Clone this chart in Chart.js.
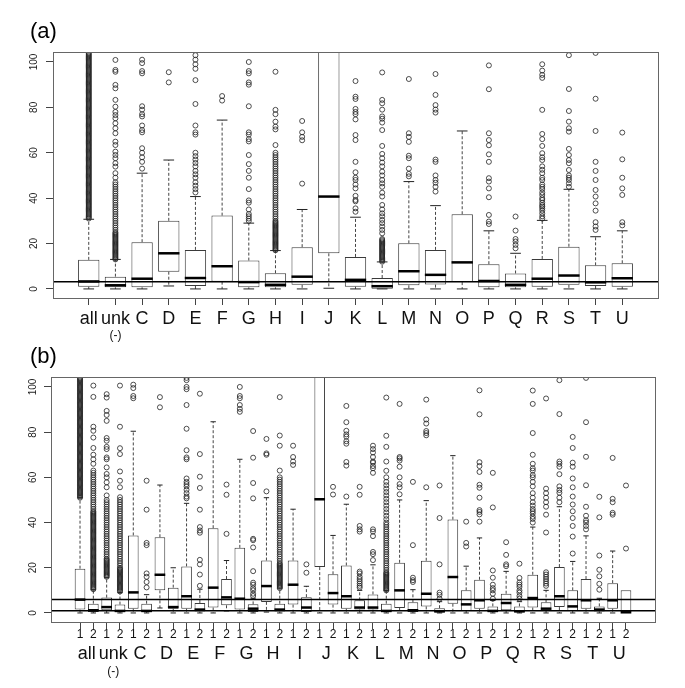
<!DOCTYPE html>
<html>
<head>
<meta charset="utf-8">
<script src="https://cdn.jsdelivr.net/npm/chart.js@4/dist/chart.umd.min.js"></script>
<style>
  body { margin: 0; background: #fff; }
  canvas { display: block; }
  #chartB { margin-top: -8px; position: relative; }
</style>
</head>
<body>
<canvas id="chartA" width="685" height="352"></canvas>
<canvas id="chartB" width="685" height="344"></canvas>
<script>
// ---- data ----
const yTicks = [0, 20, 40, 60, 80, 100];
const groups = ['all', 'unk', 'C', 'D', 'E', 'F', 'G', 'H', 'I', 'J', 'K', 'L', 'M', 'N', 'O', 'P', 'Q', 'R', 'S', 'T', 'U'];
const subLabels = ['1', '2'];

// panel (a): one box per group
const q1A  = [1.0, 0.7, 0.7, 7.6, 1.3, 3.2, 0.7, 0.7, 1.8, 15.7, 1.0, 0.1, 1.6, 1.9, 3.0, 0.7, 0.7, 1.0, 1.8, 1.3, 1.0];
const medA = [3.3, 1.6, 4.5, 15.7, 4.8, 10.0, 3.0, 1.8, 5.4, 40.7, 4.0, 1.2, 7.8, 6.2, 11.7, 3.5, 1.8, 4.5, 5.9, 2.9, 4.7];
const q3A  = [12.8, 5.4, 20.6, 30.0, 17.2, 32.3, 12.5, 6.9, 18.4, 115, 14.1, 4.8, 20.1, 17.2, 32.9, 10.9, 6.8, 13.2, 18.6, 10.4, 11.3];
const loA  = [0, 0, 0, 1.3, 0, 0, 0, 0, 0, 0.3, 0, 0, 0, 0, 0, 0, 0, 0, 0, 0, 0];
const hiA  = [30.7, 13.0, 51.0, 56.8, 40.7, 74.4, 29.0, 16.9, 35.0, 115, 31.6, 11.9, 47.3, 36.7, 69.6, 25.6, 15.7, 30.2, 43.9, 23.0, 25.6];
const outA = [
  [31,31.5,32,32.5,33,33.5,34,34.5,35,35.5,36,36.5,37,37.5,38,38.5,39,39.5,40,40.5,41,41.5,42,42.5,43,43.5,44,44.5,45,45.5,46,46.5,47,47.5,48,48.5,49,49.5,50,50.5,51,51.5,52,52.5,53,53.5,54,54.5,55,55.5,56,56.5,57,57.5,58,58.5,59,59.5,60,60.5,61,61.5,62,62.5,63,63.5,64,64.5,65,65.5,66,66.5,67,67.5,68,68.5,69,69.5,70,70.5,71,71.5,72,72.5,73,73.5,74,74.5,75,75.5,76,76.5,77,77.5,78,78.5,79,79.5,80,80.5,81,81.5,82,82.5,83,83.5,84,84.5,85,85.5,86,86.5,87,87.5,88,88.5,89,89.5,90,90.5,91,91.5,92,92.5,93,93.5,94,94.5,95,95.5,96,96.5,97,97.5,98,98.5,99,99.5,100,100.5,101,101.5,102,102.5,103,103.5,104],
  [13,13.5,14,14.5,15,15.5,16,16.5,17,17.5,18,18.5,19,19.5,20,20.5,21,21.5,22,22.5,23,23.5,24,24.5,25,26,27,28,29,30,31,32,33,34,35,36,37,38,39,40,41,42,43,44,45,46,47,49,51,53.9,55.4,57.6,59,60.5,63.4,64.9,68.6,70.8,73,75.2,76.6,78,80.3,83.3,88.4,89.9,95.7,96.5,100.9],
  [53,56,58,60,62,69,70,72,76,77,79,80.5,95,96,99.5,101],
  [91,95.5],
  [42.5,44,45.5,47,49,50.5,52,54,55.5,57,58.5,60,68,69,72,81.5,92,97,99,101,103],
  [83,85],
  [30,31,32,33,35,38,39,44,49,52,55,59,65,66,68,69,80.5,90,91,95,96,100],
  [17,17.5,18,18.5,19,19.5,20,20.5,21,21.5,22,22.5,23,23.5,24,24.5,25,25.5,26,26.5,27,27.5,28,28.5,29,29.5,30,31,32,33,34,35,36,37,38,39,40,41,42,43,44,45,46,47,48,49,50,51,52,53,54,55,56,57,58,59,60,63.4,70.3,71.5,73.7,77,78.9,95.7],
  [46.4,65.5,67,69,74],
  [],
  [34,35.5,38.6,39.2,41,44.3,46,48,49,51.4,56,65.6,67.8,74.7,77,78,79.3,83.7,84.7,91.6],
  [12,12.5,13,13.5,14,14.5,15,15.5,16,16.5,17,17.5,18,18.5,19,19.5,20,20.5,21,21.5,22,24.5,26,27.5,29,30.4,32,33.3,35,37,40.7,42.4,45,46.5,48,50,51.7,54,55.7,57.6,59.5,63,70,73.3,75,76,79,81.8,83.3,95.4],
  [49.6,50.7,53,57.6,58.7,64.8,67,68.6,92.5],
  [42.9,45,46.8,48,50,56,57,77.7,79,81,85.5,94.7],
  [],
  [28.6,29.7,32.6,40.4,44.3,47.3,48.8,56,59.3,63.3,65.6,68.6,88,98.5],
  [17.9,19.4,20.9,22,25.7,31.9],
  [31,32,33.3,34.5,35.5,36.3,37,38,39.2,40,41.4,42.5,44,45,46,48,49,51,52.5,54,56.8,58,59.8,63,66,68.3,78.9,93,94.3,96.2,99],
  [45,46.5,48,49,50,52.4,55.4,56.8,59,61.7,69.3,70.8,73.7,78.4,88.1,103],
  [26,27.5,29.4,34.5,37.7,40.7,43.6,48,52,56,69.6,83.8,104],
  [28,29.4,41.4,44.3,49,57.1,68.9]
];
const refA = [3.2];

// panel (b): two boxes per group (1, 2)
const q1B  = [1.5, 0.4, 1.2, 0.4, 1.9, 0.4, 10.0, 1.9, 1.9, 0.6, 2.4, 3.4, 1.5, 0.4, 4.9, 0.6, 3.7, 0.4, 20.3, 3.7, 1.9, 1.5, 1.5, 0.4, 2.2, 0.4, 2.9, 0.3, 4.1, 0.9, 1.9, 0.4, 1.2, 0.4, 2.4, 0.9, 2.6, 0.9, 1.9, 0.7, 1.9, 0.0];
const medB = [5.9, 1.2, 2.6, 0.9, 9.1, 0.9, 16.9, 2.6, 7.4, 1.5, 11.2, 6.9, 6.3, 1.9, 11.9, 1.5, 12.5, 2.4, 50.3, 8.8, 7.4, 2.4, 2.4, 0.9, 10.0, 1.2, 8.5, 0.7, 15.9, 3.8, 5.6, 0.9, 4.4, 0.7, 6.6, 1.9, 7.4, 2.9, 5.6, 1.5, 5.6, 0.3];
const q3B  = [19.6, 4.1, 6.8, 3.7, 34.3, 4.1, 33.5, 11.2, 20.6, 4.4, 37.5, 15.0, 28.8, 3.8, 23.2, 4.1, 23.2, 7.0, 115, 17.1, 21.0, 5.6, 8.2, 4.1, 22.2, 4.7, 23.1, 2.1, 41.3, 10.0, 14.7, 2.9, 8.5, 2.9, 16.9, 4.7, 20.3, 10.0, 15.0, 2.9, 13.2, 10.0];
const loB  = [0, 0, 0, 0, 0, 0, 2.2, 0, 0, 0, 0, 0.9, 0, 0, 0.4, 0, 0, 0, 0, 0, 0, 0, 0, 0, 0, 0, 0, 0, 0, 0, 0, 0, 0, 0, 0, 0, 0, 0, 0, 0, 0, 0];
const hiB  = [51, 10.3, 15.6, 9, 80.4, 8.1, 56.6, 20, 48.5, 10.5, 84.6, 23.2, 68, 6.5, 51, 11, 45.9, 11.8, 115, 34.3, 48.1, 10, 21.3, 10, 50, 10.3, 49.7, 5, 69.6, 20.7, 33.2, 5.5, 18.4, 5, 38, 10, 47, 22.8, 34.1, 6.5, 27.4, 10];
const outB = [
  [51,51.5,52,52.5,53,53.5,54,54.5,55,55.5,56,56.5,57,57.5,58,58.5,59,59.5,60,60.5,61,61.5,62,62.5,63,63.5,64,64.5,65,65.5,66,66.5,67,67.5,68,68.5,69,69.5,70,70.5,71,71.5,72,72.5,73,73.5,74,74.5,75,75.5,76,76.5,77,77.5,78,78.5,79,79.5,80,80.5,81,81.5,82,82.5,83,83.5,84,84.5,85,85.5,86,86.5,87,87.5,88,88.5,89,89.5,90,90.5,91,91.5,92,92.5,93,93.5,94,94.5,95,95.5,96,96.5,97,97.5,98,98.5,99,99.5,100,100.5,101,101.5,102,102.5,103,103.5,104],
  [10.5,11,11.5,12,12.5,13,13.5,14,14.5,15,15.5,16,16.5,17,17.5,18,18.5,19,19.5,20,20.5,21,21.5,22,22.5,23,23.5,24,24.5,25,25.5,26,26.5,27,27.5,28,28.5,29,29.5,30,30.5,31,31.5,32,32.5,33,33.5,34,34.5,35,35.5,36,36.5,37,37.5,38,38.5,39,39.5,40,40.5,41,41.5,42,42.5,43,43.5,44,44.5,45,46,47,48,49,50,51,52,53,54,55,56,57,58,59,60,61,62,63,66,68,70,73,77.6,80.6,82.4,95.6,100.6],
  [16,16.5,17,17.5,18,18.5,19,19.5,20,20.5,21,21.5,22,22.5,23,23.5,24,25,26,27,28,29,30,31,32,33,34,35,36,37,38,39,40,41,42,43,44,45,46,47,48,49,50,52,55.6,57.8,60,61.5,64.4,68,68.8,72.5,73.5,76.2,77.4,85,87.6,89.4,95.3,96.8],
  [9.5,10,10.5,11,11.5,12,12.5,13,13.5,14,14.5,15,15.5,16,16.5,17,17.5,18,18.5,19,19.5,20,21,22,23,24,25,26,27,28,29,30,31,32,33,34,35,36,37,38,39,40,41,42,43,44,45,46,47,48,49,50,51.2,55.6,58.5,62.6,70.3,72.9,82.4,100.6],
  [95,96,99.5,101],
  [11.3,13.7,16,17.5,30,31,45.7,58.5],
  [91,95.5],
  [],
  [50.7,51.5,53,54.5,56,57,58,59.5,68,68.8,72,81.5,92,99,100,103,104],
  [12,17,21.5,23.5,35.5,36.5,38,45.7,55.3,60.3,70.3,97],
  [],
  [35,52.3,56.8],
  [89,90.3,92,95,96,100],
  [7.5,8.5,10,11,12.5,13.4,18.5,29,32.2,32.8,50.7,57.5,68.7,80.5],
  [53.8,70,70.6,77],
  [11,11.5,12,12.5,13,13.5,14,14.5,15,15.5,16,16.5,17,17.5,18,18.5,19,19.5,20,20.5,21,21.5,22,23,24,25,26,27,28,29,30,31,32,33,34,35,36,37,38,39,40,41,42,43,44,45,46,47,48,49,50,51,52,53,54,55,56,57,58,59,60,63,74,78.5,95.5],
  [65.5,67,69,74],
  [17.8,21.5],
  [],
  [52.4,55.8],
  [51.5,65.2,66.8,74.9,76,78,79,80.6,84.4,91.6],
  [11.2,12,13,14,15,16,17.5,18.3,36,37,38.5,52.3,55.8],
  [23.4,26,27,34,36,37,62,64,65,66.5,67,69,71,72.5,74],
  [10,10.5,11,11.5,12,12.5,13,13.5,14,14.5,15,15.5,16,16.5,17,17.5,18,19,20,21,22,23,24,25,26,27,28,29,30,31,32,33,34,35,36,37,38,39,40,41.5,43,44.5,46,47.5,49,50.5,52,53.5,55,56.5,58,60,62.9,67,73.5,78.4,95.3],
  [52.5,55.6,57,60,64.7,67.4,68.4,69,92.5],
  [13.7,14.5,15.6,30,58],
  [55.6,78.6,79.6,80.5,83.8,85.6,94.4],
  [6.3,8,9,21.5,42,56.4],
  [],
  [29.4,31,40.4],
  [40.4,43.6,44.7,45.5,51,55.4,56.7,62.4,65,66.7,87.9,98.5],
  [6.3,8.5,10,11,12.5,15.6,18.8,46.7,62],
  [20.7,21.5,25.7,31.3],
  [6.3,7.5,9,10,11.5,12.5,13.5,15.5,21.8],
  [40,41.6,42.6,44,45,46,47.5,49,51,53,56,58,60,61,63,64,66,70,79.6,92.5,98.4],
  [12,13,14,15,16,17,18,35.6,43.5,47,49,51,53,55,94.9],
  [49,51,53.2,54.4,56,61.4,64.7,66,67,88,103],
  [26.3,33.8,38.5,42,45,48,51.5,55.6,59.5,64.7,66.5,73,77.9],
  [37,38.5,40,41,43,47,56.5,69.1,84.4,104],
  [10.3,12.9,16.2,19.1,25.4,42.3,51.4],
  [43.5,44.3,49,50.5,68.6],
  [28.5,56.4]
];
const refB = [5.9, 1.0];

// ---- drawing ----
const FONT = '"Liberation Sans", Arial, sans-serif';
Chart.defaults.font.family = FONT;
Chart.defaults.color = '#111';

const unitPx = (chart, u) => {
  const s = chart.scales.x;
  return Math.abs(s.getPixelForValue(u) - s.getPixelForValue(0));
};

function boxDatasets(q1, med, q3, lo, hi, out) {
  const whisk = [];
  q1.forEach((v, i) => {
    whisk.push({x: i + 1, y: q3[i]}, {x: i + 1, y: hi[i]}, {x: i + 1, y: null});
    whisk.push({x: i + 1, y: v}, {x: i + 1, y: lo[i]}, {x: i + 1, y: null});
  });
  const caps = [];
  hi.forEach((v, i) => { if (v > q3[i]) caps.push({x: i + 1, y: v}); });
  lo.forEach((v, i) => { if (v < q1[i]) caps.push({x: i + 1, y: v}); });
  const pts = out.flatMap((arr, i) => arr.map(v => ({x: i + 1, y: v})));
  return [
    { type: 'line', data: pts, showLine: false, order: 1,
      pointStyle: 'circle', pointRadius: 2.5, pointBorderWidth: 0.8,
      pointBorderColor: '#222', pointBackgroundColor: 'rgba(0,0,0,0)' },
    { type: 'line', data: med.map((v, i) => ({x: i + 1, y: v})), showLine: false, order: 2,
      pointStyle: 'line', pointRadius: c => unitPx(c.chart, 0.4), pointBorderWidth: 2.5,
      pointBorderColor: '#000' },
    { type: 'line', data: caps, showLine: false, order: 3,
      pointStyle: 'line', pointRadius: c => unitPx(c.chart, 0.2), pointBorderWidth: 1,
      pointBorderColor: '#222' },
    { type: 'line', data: whisk, order: 4, spanGaps: false, pointRadius: 0,
      borderColor: '#444', borderWidth: 1, borderDash: [3, 2] },
    { type: 'bar', data: q1.map((v, i) => ({x: i + 1, y: [v, q3[i]]})), order: 5,
      backgroundColor: '#fff', borderColor: '#3a3a3a', borderWidth: 1, borderSkipped: false,
      categoryPercentage: 1, barPercentage: 0.8 }
  ];
}

// frame, reference lines and the panel letter
const framePlugin = {
  id: 'frame',
  afterDatasetsDraw(chart, args, opts) {
    const {ctx, chartArea: a} = chart;
    const y = chart.scales.y;
    ctx.save();
    ctx.strokeStyle = '#000';
    ctx.lineWidth = 1.5;
    opts.refs.forEach(r => {
      const py = y.getPixelForValue(r);
      ctx.beginPath();
      ctx.moveTo(a.left, py);
      ctx.lineTo(a.right, py);
      ctx.stroke();
    });
    ctx.strokeStyle = '#666';
    ctx.lineWidth = 1;
    ctx.strokeRect(Math.round(a.left) + 0.5, Math.round(a.top) + 0.5,
      Math.round(a.right - a.left), Math.round(a.bottom - a.top));
    ctx.fillStyle = '#000';
    ctx.font = '22px ' + FONT;
    ctx.textBaseline = 'middle';
    ctx.textAlign = 'left';
    ctx.fillText(opts.title, 30, opts.titleY);
    ctx.restore();
  }
};

function makeChart(id, cfg) {
  const xBase = {
    type: 'linear', position: 'bottom', min: cfg.xMin, max: cfg.xMax, offset: false,
    border: {display: false}
  };
  const scales = {
    x: Object.assign({}, xBase, {
      afterBuildTicks: s => { s.ticks = cfg.tickLabels.map((t, i) => ({value: i + 1})); },
      afterFit: s => { s.height = 7 + cfg.tickPad + cfg.tickSize; },
      ticks: { autoSkip: false, minRotation: 0, maxRotation: 0, padding: cfg.tickPad,
        font: {size: cfg.tickSize, lineHeight: 1}, color: '#111',
        callback: v => cfg.tickLabels[v - 1] },
      grid: { drawOnChartArea: false, offset: false, drawTicks: true, tickLength: 7, tickColor: '#444' }
    })
  };
  cfg.extraAxes.forEach((ax, k) => {
    scales['x' + (k + 2)] = Object.assign({}, xBase, {
      afterBuildTicks: s => { s.ticks = ax.pos.map(p => ({value: p})); },
      afterFit: s => { s.height = ax.pad + ax.size; },
      ticks: { autoSkip: false, minRotation: 0, maxRotation: 0, padding: ax.pad,
        font: {size: ax.size, lineHeight: 1}, color: '#111',
        callback: (v, i) => ax.labels[i] },
      grid: { display: false, drawTicks: false, offset: false }
    });
  });
  scales.y = {
    min: -4, max: 104.4,
    afterBuildTicks: s => { s.ticks = yTicks.map(v => ({value: v})); },
    afterFit: s => { s.width = cfg.yWidth; },
    ticks: { minRotation: 90, maxRotation: 90, crossAlign: 'center', padding: cfg.yPad,
      font: {size: 10}, color: '#222' },
    grid: { drawOnChartArea: false, drawTicks: true, tickLength: 7, tickColor: '#444' },
    border: {display: false}
  };
  return new Chart(document.getElementById(id), {
    type: 'bar',
    data: { datasets: boxDatasets(cfg.q1, cfg.med, cfg.q3, cfg.lo, cfg.hi, cfg.out) },
    options: {
      responsive: false,
      animation: false,
      events: [],
      layout: { padding: cfg.padding },
      scales: scales,
      plugins: {
        legend: {display: false},
        tooltip: {enabled: false},
        frame: { refs: cfg.refs, title: cfg.title, titleY: cfg.titleY }
      }
    },
    plugins: [framePlugin]
  });
}

document.addEventListener('DOMContentLoaded', function () {
  // canvas A: 352 tall, plot area 52..298
  makeChart('chartA', {
    title: '(a)', titleY: 32,
    padding: {left: 14, right: 27, top: 52, bottom: 10},
    xMin: -0.34, xMax: 22.34, yWidth: 39, yPad: 3,
    tickLabels: groups, tickSize: 18, tickPad: 5,
    extraAxes: [ {pos: [2], labels: ['(-)'], size: 12, pad: 2} ],
    q1: q1A, med: medA, q3: q3A, lo: loA, hi: hiA, out: outA, refs: refA
  });

  // canvas B: starts at 344, plot area 377..622
  const subTicks = groups.flatMap(() => subLabels);
  makeChart('chartB', {
    title: '(b)', titleY: 12.5,
    padding: {left: 14, right: 30, top: 33, bottom: 10},
    xMin: -1.18, xMax: 44.18, yWidth: 37, yPad: 2,
    tickLabels: subTicks, tickSize: 12, tickPad: 0,
    extraAxes: [
      {pos: groups.map((g, i) => 2 * i + 1.5), labels: groups, size: 18, pad: 4},
      {pos: [3.5], labels: ['(-)'], size: 12, pad: 3}
    ],
    q1: q1B, med: medB, q3: q3B, lo: loB, hi: hiB, out: outB, refs: refB
  });
});
</script>
</body>
</html>
